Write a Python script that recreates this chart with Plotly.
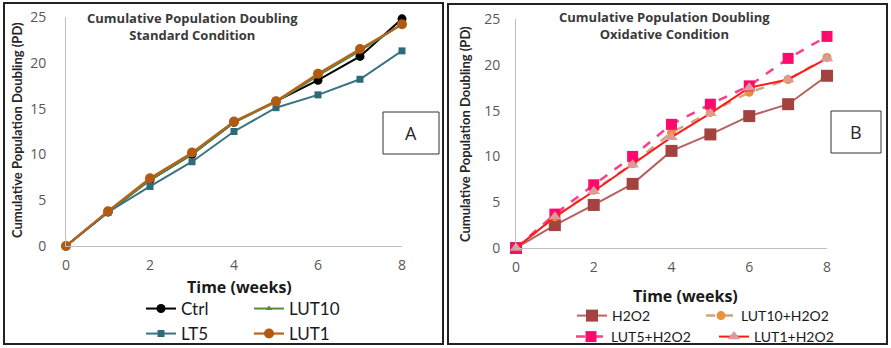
import plotly.graph_objects as go

W, H = 891, 348

weeks = [0, 1, 2, 3, 4, 5, 6, 7, 8]
x_ticks = [0, 2, 4, 6, 8]
y_ticks = [0, 5, 10, 15, 20, 25]

# Standard condition
ctrl = [0, 3.7, 7.2, 10.0, 13.5, 15.8, 18.1, 20.7, 24.8]
lut10 = [0, 3.7, 7.2, 10.0, 13.5, 15.7, 18.6, 21.3, 24.2]
lt5 = [0, 3.7, 6.5, 9.2, 12.5, 15.1, 16.5, 18.2, 21.3]
lut1 = [0, 3.8, 7.4, 10.2, 13.6, 15.8, 18.8, 21.5, 24.2]

# Oxidative condition
h2o2 = [0, 2.5, 4.7, 7.0, 10.6, 12.4, 14.4, 15.7, 18.8]
lut10_h = [0, 3.4, 6.3, 9.2, 12.6, 14.8, 17.0, 18.4, 20.8]
lut5_h = [0, 3.7, 6.9, 10.0, 13.5, 15.7, 17.7, 20.7, 23.1]
lut1_h = [0, 3.4, 6.2, 9.1, 12.1, 14.7, 17.5, 18.4, 20.7]

FONT = "Lato"
WIDE = "Open Sans"


def px(x):
    return x / W


def py(y):
    return 1 - y / H


fig = go.Figure()

# left panel traces
fig.add_trace(go.Scatter(x=weeks, y=ctrl, name="Ctrl", mode="lines+markers",
                         line=dict(color="#000000", width=2),
                         marker=dict(symbol="circle", size=9, color="#000000"),
                         xaxis="x", yaxis="y", legend="legend", cliponaxis=False))
fig.add_trace(go.Scatter(x=weeks, y=lut10, name="LUT10", mode="lines+markers",
                         line=dict(color="#5b8a3c", width=2),
                         marker=dict(symbol="triangle-up", size=6, color="#5b8a3c"),
                         xaxis="x", yaxis="y", legend="legend", cliponaxis=False))
fig.add_trace(go.Scatter(x=weeks, y=lt5, name="LT5", mode="lines+markers",
                         line=dict(color="#3a7482", width=2),
                         marker=dict(symbol="square", size=7, color="#2f6a78"),
                         xaxis="x", yaxis="y", legend="legend2", cliponaxis=False))
fig.add_trace(go.Scatter(x=weeks, y=lut1, name="LUT1", mode="lines+markers",
                         line=dict(color="#b8621e", width=2.2),
                         marker=dict(symbol="circle", size=10, color="#b35a12"),
                         xaxis="x", yaxis="y", legend="legend2", cliponaxis=False))

# right panel traces
fig.add_trace(go.Scatter(x=weeks, y=h2o2, name="H2O2", mode="lines+markers",
                         line=dict(color="#b5625f", width=2),
                         marker=dict(symbol="square", size=12, color="#a3423f"),
                         xaxis="x2", yaxis="y2", legend="legend3", cliponaxis=False))
fig.add_trace(go.Scatter(x=weeks, y=lut10_h, name="LUT10+H2O2", mode="lines+markers",
                         line=dict(color="#c9a783", width=2.5, dash="dash"),
                         marker=dict(symbol="circle", size=9, color="#e8913a"),
                         xaxis="x2", yaxis="y2", legend="legend3", cliponaxis=False))
fig.add_trace(go.Scatter(x=weeks, y=lut5_h, name="LUT5+H2O2", mode="lines+markers",
                         line=dict(color="#ff3d8c", width=2.5, dash="dash"),
                         marker=dict(symbol="square", size=11, color="#ff0a6c"),
                         xaxis="x2", yaxis="y2", legend="legend4", cliponaxis=False))
fig.add_trace(go.Scatter(x=weeks, y=lut1_h, name="LUT1+H2O2", mode="lines+markers",
                         line=dict(color="#ff1a1a", width=2),
                         marker=dict(symbol="triangle-up", size=11, color="#dc9a9a"),
                         xaxis="x2", yaxis="y2", legend="legend4", cliponaxis=False))

axis_common = dict(showgrid=False, zeroline=False, showline=True, linecolor="#bfbfbf",
                   linewidth=1, ticks="", tickfont=dict(family=WIDE, size=14, color="#595959"))


def leg(x, y, ew, size):
    return dict(orientation="h", x=px(x), y=py(y), xanchor="left", yanchor="middle",
                xref="container", yref="container",
                entrywidth=ew, entrywidthmode="pixels", bgcolor="rgba(0,0,0,0)",
                font=dict(family=FONT, size=size, color="#1a1a1a"), tracegroupgap=0)


fig.update_layout(
    width=W, height=H,
    margin=dict(l=0, r=0, t=0, b=0, autoexpand=False),
    paper_bgcolor="white", plot_bgcolor="white",
    font=dict(family=FONT),
    xaxis=dict(domain=[px(66), px(402)], range=[0, 8], tickvals=x_ticks, anchor="y",
               ticklabelstandoff=6, **axis_common),
    yaxis=dict(domain=[py(246), py(17)], range=[0, 25], tickvals=y_ticks, anchor="x",
               ticklabelstandoff=16, **axis_common),
    xaxis2=dict(domain=[px(516), px(827)], range=[0, 8], tickvals=x_ticks, anchor="y2",
                ticklabelstandoff=6, **axis_common),
    yaxis2=dict(domain=[py(248), py(19)], range=[0, 25], tickvals=y_ticks, anchor="x2",
                ticklabelstandoff=12, **axis_common),
    legend=leg(141, 309, 63, 17),
    legend2=leg(141, 334, 63, 17),
    legend3=leg(572, 316, 84, 14),
    legend4=leg(571, 337, 98, 14),
    showlegend=True,
)

shapes = [
    dict(type="rect", xref="paper", yref="paper", x0=px(4), x1=px(443), y0=py(344), y1=py(3),
         line=dict(color="#222222", width=2)),
    dict(type="rect", xref="paper", yref="paper", x0=px(448), x1=px(887), y0=py(344), y1=py(4),
         line=dict(color="#222222", width=2)),
    dict(type="rect", xref="paper", yref="paper", x0=px(383), x1=px(439), y0=py(154), y1=py(112),
         line=dict(color="#333333", width=1)),
    dict(type="rect", xref="paper", yref="paper", x0=px(831), x1=px(881), y0=py(153), y1=py(111),
         line=dict(color="#333333", width=1)),
]
fig.update_layout(shapes=shapes)

ann = []


def add_text(text, x, y, size, color="#333333", bold=False, angle=0, family=FONT):
    ann.append(dict(text=("<b>%s</b>" % text) if bold else text, x=px(x), y=py(y),
                    xref="paper", yref="paper", showarrow=False, textangle=angle,
                    xanchor="center", yanchor="middle",
                    font=dict(family=family, size=size, color=color)))


add_text("Cumulative Population Doubling<br>Standard Condition", 192, 27, 13, "#3a3a3a", True, family=WIDE)
add_text("Cumulative Population Doubling<br>Oxidative Condition", 664, 25, 13, "#3a3a3a", True, family=WIDE)
add_text("Cumulative Population Doubling (PD)", 17, 130, 13, "#262626", True, -90)
add_text("Cumulative Population Doubling (PD)", 465, 134, 13, "#262626", True, -90)
add_text("Time (weeks)", 239, 287, 16, "#1a1a1a", True, family=WIDE)
add_text("Time (weeks)", 685, 296, 16, "#1a1a1a", True, family=WIDE)
add_text("A", 411, 133, 18, "#262626", family=WIDE)
add_text("B", 856, 132, 18, "#262626", family=WIDE)
fig.update_layout(annotations=ann)

fig.write_html("out.html")
